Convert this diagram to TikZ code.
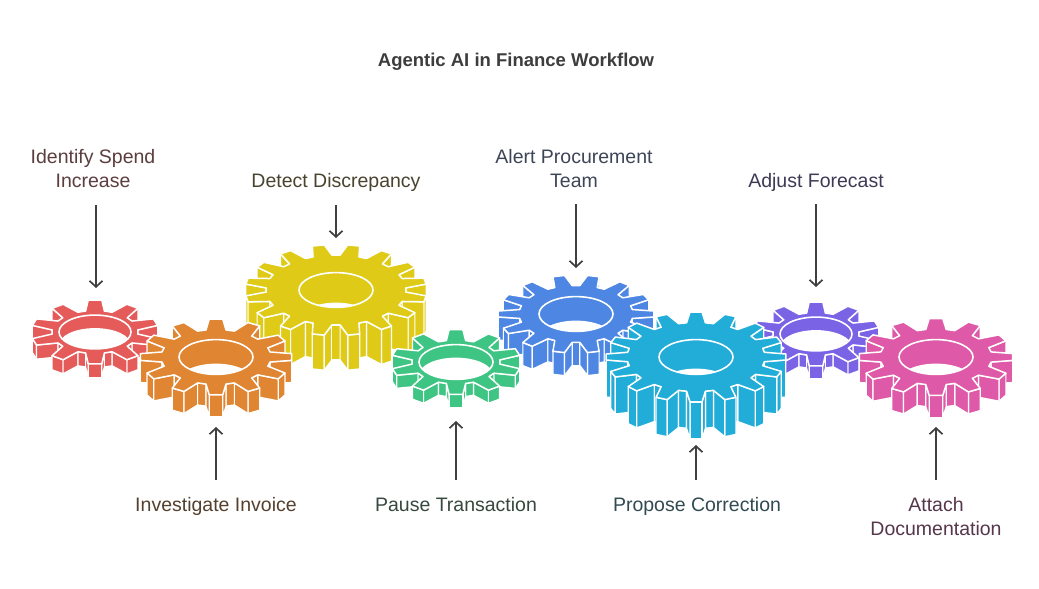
\documentclass[tikz,border=0pt]{standalone}
\usepackage{fontspec}
\setmainfont{Liberation Sans}
\usetikzlibrary{arrows.meta}

\definecolor{gred}{HTML}{E45B5A}
\definecolor{gorange}{HTML}{E08532}
\definecolor{gyellow}{HTML}{DFCB17}
\definecolor{ggreen}{HTML}{3EC583}
\definecolor{gblue}{HTML}{4E87E3}
\definecolor{gcyan}{HTML}{22ADD8}
\definecolor{gpurple}{HTML}{7B63E6}
\definecolor{gpink}{HTML}{DE5AA8}
\definecolor{tred}{HTML}{5C3E3E}
\definecolor{torange}{HTML}{55402E}
\definecolor{tyellow}{HTML}{48442E}
\definecolor{tgreen}{HTML}{37493E}
\definecolor{tblue}{HTML}{3D4557}
\definecolor{tcyan}{HTML}{324A52}
\definecolor{tpurple}{HTML}{3E3A55}
\definecolor{tpink}{HTML}{56374A}
\definecolor{arrowgray}{HTML}{404040}
\definecolor{titlegray}{HTML}{3D3D3D}

\tikzset{
  gearside/.style={fill=\gcol, draw=white, line width=1.2pt, line join=round},
  geartop/.style={fill=\gcol, draw=white, line width=1.5pt, line join=round},
  lab/.style={font=\fontsize{19.5}{23.5}\selectfont, align=center, anchor=base},
  arr/.style={draw=arrowgray, line width=1.7pt, -{Straight Barb[length=6pt,width=13pt]}}
}

\newcommand\gpoint[2]{\pgfmathsetmacro\gpx{\gcx+(#1)*cos(#2)}\pgfmathsetmacro\gpy{\gcy-0.5*(#1)*sin(#2)}}
\newcommand\gedge[4]{%
  \gpoint{#1}{#2}\let\gxa\gpx\let\gya\gpy
  \gpoint{#3}{#4}\let\gxb\gpx\let\gyb\gpy
  \pgfmathtruncatemacro\gvis{(\gxb>\gxa+0.05)}%
  \ifnum\gvis=1\relax
    \filldraw[gearside] (\gxa,\gya) -- (\gxb,\gyb) -- (\gxb,{\gyb+\gh}) -- (\gxa,{\gya+\gh}) -- cycle;
  \fi}
\newcommand\gtooth[1]{%
  \gedge{\gr}{#1-\gbw}{\gR}{#1-\gtw}%
  \gedge{\gR}{#1-\gtw}{\gR}{#1+\gtw}%
  \gedge{\gR}{#1+\gtw}{\gr}{#1+\gbw}%
  \gedge{\gr}{#1+\gbw}{\gr}{#1+\gP-\gbw}}
\newcommand\gtoothR[1]{%
  \gedge{\gr}{#1+\gbw}{\gr}{#1+\gP-\gbw}%
  \gedge{\gR}{#1+\gtw}{\gr}{#1+\gbw}%
  \gedge{\gR}{#1-\gtw}{\gR}{#1+\gtw}%
  \gedge{\gr}{#1-\gbw}{\gR}{#1-\gtw}}
% cx, cy, R, N, offset fraction, height, hole shift, colour, hole rx
\newcommand\gearshape[9]{%
  \def\gcx{#1}\def\gcy{#2}\def\gR{#3}\pgfmathsetmacro\gr{#3-21}%
  \pgfmathsetmacro\gP{360/#4}\pgfmathsetmacro\goff{90+#5*\gP}%
  \pgfmathsetmacro\gtw{0.17*\gP}\pgfmathsetmacro\gbw{0.35*\gP}%
  \def\gh{#6}\def\gd{#7}\def\gcol{#8}\def\ghr{#9}%
  \pgfmathtruncatemacro\gNm{#4-1}%
  \foreach \i in {0,...,\gNm}{%
    \pgfmathsetmacro\a{\goff+\i*\gP}%
    \pgfmathtruncatemacro\gleft{(\a<269.9)}%
    \ifnum\gleft=1\relax \gtooth{\a}\fi}%
  \foreach \i in {0,...,\gNm}{%
    \pgfmathsetmacro\a{\goff+(\gNm-\i)*\gP}%
    \pgfmathtruncatemacro\gleft{(\a<269.9)}%
    \ifnum\gleft=0\relax \gtoothR{\a}\fi}%
  \gpoint{\gr}{\goff+\gNm*\gP+\gbw}\let\gsx\gpx\let\gsy\gpy
  \gdef\gpath{}%
  \foreach \i in {0,...,\gNm}{%
    \pgfmathsetmacro\a{\goff+\i*\gP}%
    \gpoint{\gr}{\a-\gbw}\xdef\gpath{\gpath -- (\gpx,\gpy)}%
    \gpoint{\gR}{\a-\gtw}\xdef\gpath{\gpath -- (\gpx,\gpy)}%
    \gpoint{\gR}{\a+\gtw}\xdef\gpath{\gpath -- (\gpx,\gpy)}%
    \gpoint{\gr}{\a+\gbw}\xdef\gpath{\gpath -- (\gpx,\gpy)}}%
  \filldraw[geartop] (\gsx,\gsy) \gpath -- cycle;
  \pgfmathsetmacro\ghry{0.47*\ghr}%
  \begin{scope}
    \clip (\gcx,\gcy) ellipse [x radius=\ghr, y radius=\ghry];
    \fill[white] (\gcx,{\gcy+\gd}) ellipse [x radius=\ghr, y radius=\ghry];
  \end{scope}
  \draw[white, line width=1.6pt] (\gcx,\gcy) ellipse [x radius=\ghr, y radius=\ghry];
}

\begin{document}
\begin{tikzpicture}[x=1pt,y=-1pt]
\useasboundingbox (0,0) rectangle (1039,589);
\fill[white] (0,0) rectangle (1039,589);

% gears, back to front
\gearshape{336}{290}{91}{16}{0.5}{35}{30}{gyellow}{37}
\gearshape{576}{314}{78}{14}{0.5}{23}{24}{gblue}{37}
\gearshape{95}{332}{64}{10}{0}{14}{13}{gred}{36}
\gearshape{816}{334}{64}{10}{0}{13}{13}{gpurple}{36}
\gearshape{216}{357}{76}{12}{0}{22}{24}{gorange}{37}
\gearshape{696}{357}{90}{16}{0}{37}{29}{gcyan}{37}
\gearshape{936}{357}{77}{12}{0}{22}{24}{gpink}{37}
\gearshape{456}{362}{65}{10}{0}{13}{13}{ggreen}{37}

% title
\node[font=\fontsize{18.5}{22}\selectfont\bfseries, text=titlegray, anchor=base] (title) at (516,66.5) {Agentic AI in Finance Workflow};

% labels (base = last line)
\node[lab, text=tred] (l1) at (93,187) {Identify Spend\\Increase};
\node[lab, text=tyellow] (l2) at (336,187) {Detect Discrepancy};
\node[lab, text=tblue] (l3) at (574,187) {Alert Procurement\\Team};
\node[lab, text=tpurple] (l4) at (816,187) {Adjust Forecast};
\node[lab, text=torange] (l5) at (216,511) {Investigate Invoice};
\node[lab, text=tgreen] (l6) at (456,511) {Pause Transaction};
\node[lab, text=tcyan] (l7) at (697,511) {Propose Correction};
\node[lab, text=tpink] (l8) at (936,535) {Attach\\Documentation};

% arrow ends
\coordinate (a1s) at (96,205);  \coordinate (a1e) at (96,288);
\coordinate (a2s) at (336,205); \coordinate (a2e) at (336,238);
\coordinate (a3s) at (576,204); \coordinate (a3e) at (576,268);
\coordinate (a4s) at (816,204); \coordinate (a4e) at (816,287);
\coordinate (b1s) at (216,480); \coordinate (b1e) at (216,427);
\coordinate (b2s) at (456,480); \coordinate (b2e) at (456,421);
\coordinate (b3s) at (696,480); \coordinate (b3e) at (696,445);
\coordinate (b4s) at (936,480); \coordinate (b4e) at (936,427);
\draw[arr] (a1s) -- (a1e);
\draw[arr] (a2s) -- (a2e);
\draw[arr] (a3s) -- (a3e);
\draw[arr] (a4s) -- (a4e);
\draw[arr] (b1s) -- (b1e);
\draw[arr] (b2s) -- (b2e);
\draw[arr] (b3s) -- (b3e);
\draw[arr] (b4s) -- (b4e);
\end{tikzpicture}
\end{document}
